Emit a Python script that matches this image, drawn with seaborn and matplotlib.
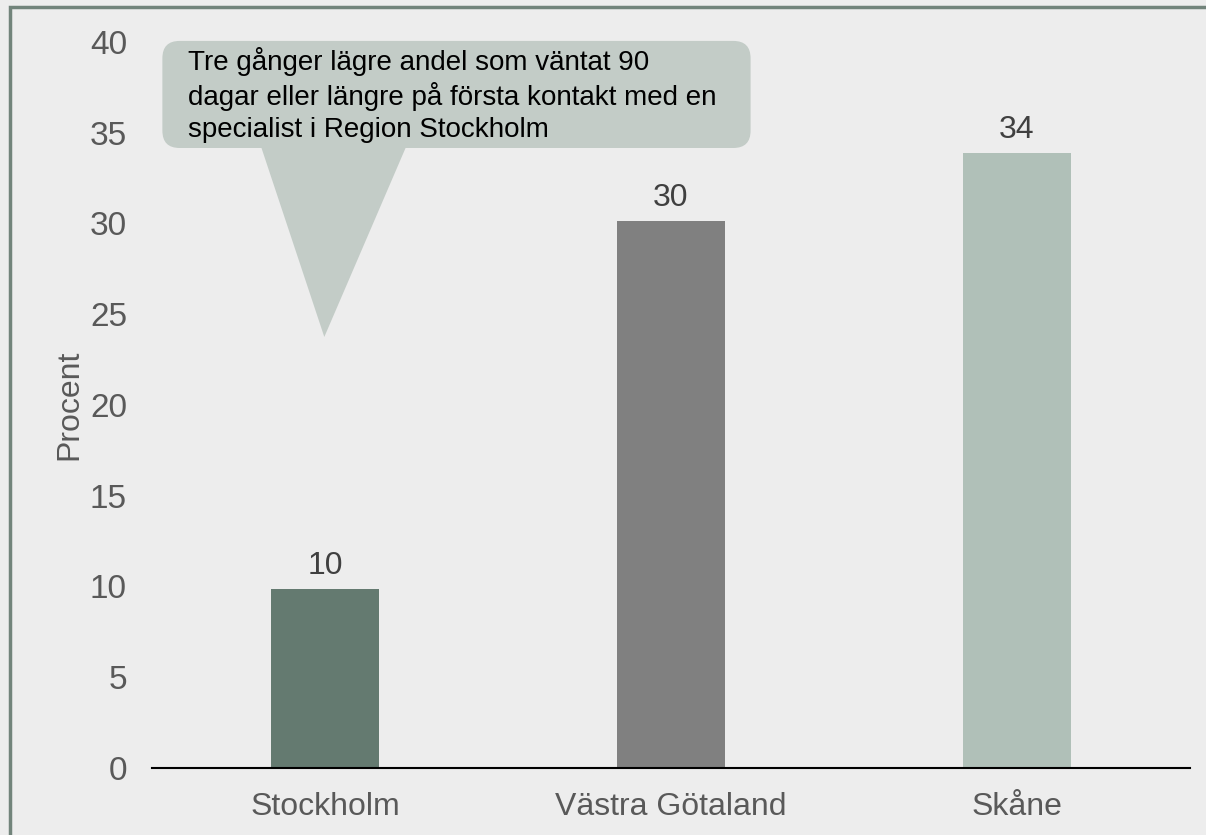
import seaborn as sns
import matplotlib.pyplot as plt
import pandas as pd
from matplotlib.patches import FancyBboxPatch, Polygon, Rectangle

regions = ['Stockholm', 'Västra Götaland', 'Skåne']
values = [9.85, 30.15, 33.9]
labels = ['10', '30', '34']
bar_colors = ['#647a70', '#808080', '#b0c0b8']
callout_text = ('Tre gånger lägre andel som väntat 90\n'
                'dagar eller längre på första kontakt med en\n'
                'specialist i Region Stockholm')

bg = '#ededed'
sns.set_style('white')
plt.rcParams['font.family'] = ['Liberation Sans', 'DejaVu Sans']

df = pd.DataFrame({'Region': regions, 'Procent': values})

fig = plt.figure(figsize=(12.06, 8.35), dpi=100, facecolor=bg)
ax = fig.add_axes([152 / 1206, 1 - 768 / 835, 1038 / 1206, 726 / 835])
ax.set_facecolor(bg)

sns.barplot(data=df, x='Region', y='Procent', hue='Region', palette=bar_colors,
            width=0.315, legend=False, ax=ax, saturation=1, linewidth=0)

ax.set_ylim(0, 40)
ax.set_xlim(-0.5, 2.5)
ax.set_yticks(range(0, 41, 5))
ax.tick_params(axis='x', labelsize=23, labelcolor='#595959', length=0, pad=17)
ax.tick_params(axis='y', labelsize=24, labelcolor='#595959', length=0, pad=18)
ax.set_xlabel('')
ax.set_ylabel('Procent', fontsize=23, color='#595959', labelpad=4)
for s in ['top', 'right', 'left']:
    ax.spines[s].set_visible(False)
ax.spines['bottom'].set_color('black')
ax.spines['bottom'].set_linewidth(1.5)

for i, (v, lab) in enumerate(zip(values, labels)):
    ax.text(i, v + 0.45, lab, ha='center', va='bottom', fontsize=23, color='#404040')

# callout bubble
callout_color = '#c3ccc7'
tri = Polygon([(-0.186, 34.3), (0.236, 34.3), (-0.002, 23.75)], closed=True,
              facecolor=callout_color, edgecolor='none', clip_on=False, zorder=3)
ax.add_patch(tri)
box = FancyBboxPatch((-0.47, 34.16), 1.70, 5.9,
                     boxstyle='round,pad=0,rounding_size=0.05',
                     mutation_aspect=346 / 18.15,
                     facecolor=callout_color, edgecolor='none', clip_on=False, zorder=3)
ax.add_patch(box)
ax.text(-0.397, 39.75, callout_text, ha='left', va='top', fontsize=20,
        color='black', linespacing=1.3, zorder=4)

# outer border
fig.patches.append(Rectangle((10 / 1206, -0.1), 1.2, 1 - 7 / 835 + 0.1,
                             transform=fig.transFigure, fill=False,
                             edgecolor='#72847b', linewidth=2.5))

fig.savefig('out.png', dpi=100, facecolor=bg)
